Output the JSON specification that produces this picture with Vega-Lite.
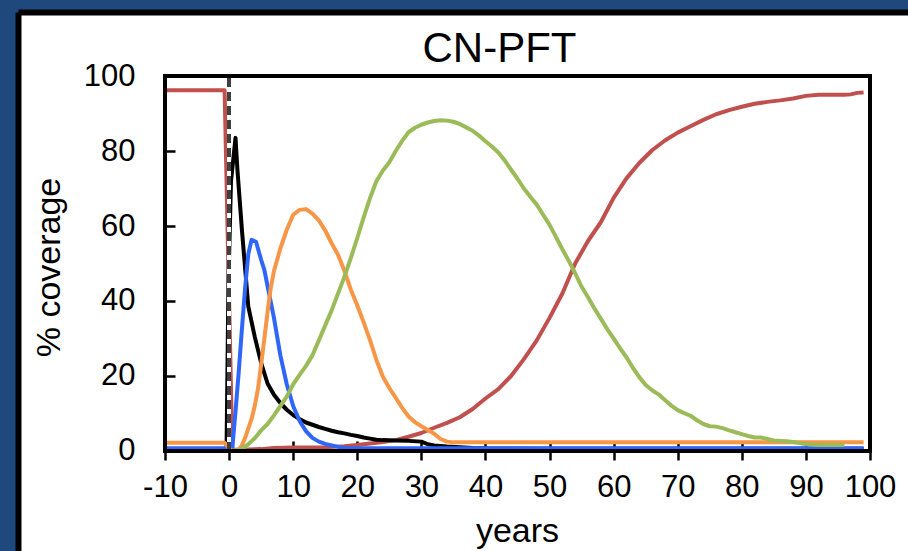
{
  "$schema": "https://vega.github.io/schema/vega-lite/v6.json",
  "width": 887,
  "height": 536,
  "autosize": {"type": "none"},
  "padding": {"left": 21, "top": 15, "right": 0, "bottom": 0},
  "background": "#1F497D",
  "config": {
    "font": "Liberation Sans",
    "view": {"fill": "white", "stroke": null}
  },
  "title": {
    "text": "CN-PFT",
    "font": "Liberation Sans",
    "fontSize": 42,
    "fontWeight": "normal",
    "color": "black",
    "anchor": "middle",
    "frame": "group",
    "baseline": "alphabetic",
    "offset": -92,
    "dx": 35
  },
  "data": {
    "values": [
      {"s": "PFT1", "year": -10, "cover": 96.2}, {"s": "PFT1", "year": -5, "cover": 96.2}, {"s": "PFT1", "year": -0.7, "cover": 96.2},
      {"s": "PFT1", "year": 0.5, "cover": 0.3}, {"s": "PFT1", "year": 3, "cover": 0.4}, {"s": "PFT1", "year": 5, "cover": 0.5},
      {"s": "PFT1", "year": 7, "cover": 0.8}, {"s": "PFT1", "year": 10, "cover": 0.9}, {"s": "PFT1", "year": 15, "cover": 1.0},
      {"s": "PFT1", "year": 18, "cover": 1.3}, {"s": "PFT1", "year": 20, "cover": 1.6}, {"s": "PFT1", "year": 22, "cover": 2.0},
      {"s": "PFT1", "year": 24, "cover": 2.4}, {"s": "PFT1", "year": 26, "cover": 2.9}, {"s": "PFT1", "year": 28, "cover": 3.8},
      {"s": "PFT1", "year": 30, "cover": 4.8}, {"s": "PFT1", "year": 32, "cover": 6.2}, {"s": "PFT1", "year": 34, "cover": 7.5},
      {"s": "PFT1", "year": 36, "cover": 9.0}, {"s": "PFT1", "year": 38, "cover": 11.2}, {"s": "PFT1", "year": 40, "cover": 14.0},
      {"s": "PFT1", "year": 42, "cover": 16.5}, {"s": "PFT1", "year": 44, "cover": 20.0}, {"s": "PFT1", "year": 46, "cover": 24.5},
      {"s": "PFT1", "year": 48, "cover": 29.5}, {"s": "PFT1", "year": 50, "cover": 35.5}, {"s": "PFT1", "year": 52, "cover": 42.0},
      {"s": "PFT1", "year": 54, "cover": 50.0}, {"s": "PFT1", "year": 56, "cover": 56.0}, {"s": "PFT1", "year": 58, "cover": 61.0},
      {"s": "PFT1", "year": 60, "cover": 67.5}, {"s": "PFT1", "year": 62, "cover": 72.7}, {"s": "PFT1", "year": 64, "cover": 76.8},
      {"s": "PFT1", "year": 66, "cover": 80.2}, {"s": "PFT1", "year": 68, "cover": 82.8}, {"s": "PFT1", "year": 70, "cover": 84.9},
      {"s": "PFT1", "year": 72, "cover": 86.6}, {"s": "PFT1", "year": 74, "cover": 88.3}, {"s": "PFT1", "year": 76, "cover": 89.8},
      {"s": "PFT1", "year": 78, "cover": 90.9}, {"s": "PFT1", "year": 80, "cover": 91.8}, {"s": "PFT1", "year": 82, "cover": 92.6},
      {"s": "PFT1", "year": 84, "cover": 93.1}, {"s": "PFT1", "year": 86, "cover": 93.5}, {"s": "PFT1", "year": 88, "cover": 94.0},
      {"s": "PFT1", "year": 90, "cover": 94.7}, {"s": "PFT1", "year": 92, "cover": 95.0}, {"s": "PFT1", "year": 96, "cover": 95.0},
      {"s": "PFT1", "year": 97, "cover": 95.1}, {"s": "PFT1", "year": 98, "cover": 95.5}, {"s": "PFT1", "year": 99, "cover": 95.6},

      {"s": "PFT2", "year": -10, "cover": 0.2}, {"s": "PFT2", "year": -0.4, "cover": 0.2}, {"s": "PFT2", "year": -0.1, "cover": 45},
      {"s": "PFT2", "year": 0.3, "cover": 72}, {"s": "PFT2", "year": 1.0, "cover": 83.5}, {"s": "PFT2", "year": 1.3, "cover": 75},
      {"s": "PFT2", "year": 2, "cover": 59}, {"s": "PFT2", "year": 3, "cover": 38.5}, {"s": "PFT2", "year": 4, "cover": 30.5},
      {"s": "PFT2", "year": 5, "cover": 23.5}, {"s": "PFT2", "year": 6, "cover": 18}, {"s": "PFT2", "year": 7, "cover": 15},
      {"s": "PFT2", "year": 8, "cover": 12.8}, {"s": "PFT2", "year": 9, "cover": 11}, {"s": "PFT2", "year": 10, "cover": 9.6},
      {"s": "PFT2", "year": 11, "cover": 8.5}, {"s": "PFT2", "year": 12, "cover": 7.6}, {"s": "PFT2", "year": 13, "cover": 7.0},
      {"s": "PFT2", "year": 14, "cover": 6.4}, {"s": "PFT2", "year": 15, "cover": 5.9}, {"s": "PFT2", "year": 16, "cover": 5.4},
      {"s": "PFT2", "year": 17, "cover": 5.0}, {"s": "PFT2", "year": 18, "cover": 4.7}, {"s": "PFT2", "year": 19, "cover": 4.3},
      {"s": "PFT2", "year": 20, "cover": 4.0}, {"s": "PFT2", "year": 21, "cover": 3.6}, {"s": "PFT2", "year": 22, "cover": 3.3},
      {"s": "PFT2", "year": 23, "cover": 3.0}, {"s": "PFT2", "year": 24, "cover": 2.9}, {"s": "PFT2", "year": 26, "cover": 2.8},
      {"s": "PFT2", "year": 28, "cover": 2.7}, {"s": "PFT2", "year": 30, "cover": 2.5}, {"s": "PFT2", "year": 31, "cover": 1.8},
      {"s": "PFT2", "year": 32, "cover": 1.5}, {"s": "PFT2", "year": 34, "cover": 1.2}, {"s": "PFT2", "year": 36, "cover": 1.0},
      {"s": "PFT2", "year": 38, "cover": 0.8}, {"s": "PFT2", "year": 40, "cover": 0.7}, {"s": "PFT2", "year": 50, "cover": 0.6},
      {"s": "PFT2", "year": 99, "cover": 0.6},

      {"s": "PFT3", "year": -10, "cover": 0.7}, {"s": "PFT3", "year": 0.5, "cover": 0.7}, {"s": "PFT3", "year": 1, "cover": 10.5},
      {"s": "PFT3", "year": 1.5, "cover": 21}, {"s": "PFT3", "year": 2, "cover": 32.5}, {"s": "PFT3", "year": 2.5, "cover": 43.5},
      {"s": "PFT3", "year": 3, "cover": 52.5}, {"s": "PFT3", "year": 3.5, "cover": 56.3}, {"s": "PFT3", "year": 4.2, "cover": 55.8},
      {"s": "PFT3", "year": 5, "cover": 51}, {"s": "PFT3", "year": 5.5, "cover": 48.3}, {"s": "PFT3", "year": 6, "cover": 44},
      {"s": "PFT3", "year": 7, "cover": 35.5}, {"s": "PFT3", "year": 8, "cover": 25.5}, {"s": "PFT3", "year": 9, "cover": 17.8},
      {"s": "PFT3", "year": 10, "cover": 12}, {"s": "PFT3", "year": 11, "cover": 8}, {"s": "PFT3", "year": 12, "cover": 5.3},
      {"s": "PFT3", "year": 13, "cover": 3.5}, {"s": "PFT3", "year": 14, "cover": 2.5}, {"s": "PFT3", "year": 15, "cover": 1.9},
      {"s": "PFT3", "year": 16, "cover": 1.5}, {"s": "PFT3", "year": 17, "cover": 1.1}, {"s": "PFT3", "year": 18, "cover": 0.8},
      {"s": "PFT3", "year": 20, "cover": 0.7}, {"s": "PFT3", "year": 99, "cover": 0.7},

      {"s": "PFT4", "year": -10, "cover": 2.2}, {"s": "PFT4", "year": -0.7, "cover": 2.2}, {"s": "PFT4", "year": 0.3, "cover": 0.1},
      {"s": "PFT4", "year": 1.5, "cover": 0.3}, {"s": "PFT4", "year": 2, "cover": 1.5}, {"s": "PFT4", "year": 2.5, "cover": 3.5},
      {"s": "PFT4", "year": 3, "cover": 6.0}, {"s": "PFT4", "year": 3.5, "cover": 8.5}, {"s": "PFT4", "year": 4, "cover": 12},
      {"s": "PFT4", "year": 4.5, "cover": 16.5}, {"s": "PFT4", "year": 5, "cover": 23}, {"s": "PFT4", "year": 5.5, "cover": 30},
      {"s": "PFT4", "year": 6, "cover": 37}, {"s": "PFT4", "year": 6.5, "cover": 43.5}, {"s": "PFT4", "year": 7, "cover": 48},
      {"s": "PFT4", "year": 8, "cover": 54}, {"s": "PFT4", "year": 9, "cover": 59}, {"s": "PFT4", "year": 10, "cover": 63},
      {"s": "PFT4", "year": 11, "cover": 64.3}, {"s": "PFT4", "year": 12, "cover": 64.5}, {"s": "PFT4", "year": 13, "cover": 63.3},
      {"s": "PFT4", "year": 14, "cover": 61.5}, {"s": "PFT4", "year": 15, "cover": 58.8}, {"s": "PFT4", "year": 16, "cover": 55.4},
      {"s": "PFT4", "year": 17, "cover": 52.3}, {"s": "PFT4", "year": 18, "cover": 48}, {"s": "PFT4", "year": 19, "cover": 43},
      {"s": "PFT4", "year": 20, "cover": 38.8}, {"s": "PFT4", "year": 21, "cover": 34.3}, {"s": "PFT4", "year": 22, "cover": 29.5},
      {"s": "PFT4", "year": 23, "cover": 24.2}, {"s": "PFT4", "year": 24, "cover": 19.8}, {"s": "PFT4", "year": 25, "cover": 16.8},
      {"s": "PFT4", "year": 26, "cover": 14.2}, {"s": "PFT4", "year": 27, "cover": 11.5}, {"s": "PFT4", "year": 28, "cover": 9.2},
      {"s": "PFT4", "year": 29, "cover": 7.7}, {"s": "PFT4", "year": 30, "cover": 6.6}, {"s": "PFT4", "year": 31, "cover": 5.6},
      {"s": "PFT4", "year": 32, "cover": 4.6}, {"s": "PFT4", "year": 33, "cover": 3.2}, {"s": "PFT4", "year": 34, "cover": 2.5},
      {"s": "PFT4", "year": 35, "cover": 2.3}, {"s": "PFT4", "year": 99, "cover": 2.3},

      {"s": "PFT5", "year": -10, "cover": 0}, {"s": "PFT5", "year": 1, "cover": 0}, {"s": "PFT5", "year": 2, "cover": 0.6},
      {"s": "PFT5", "year": 3, "cover": 1.8}, {"s": "PFT5", "year": 4, "cover": 3.4}, {"s": "PFT5", "year": 5, "cover": 5.5},
      {"s": "PFT5", "year": 6, "cover": 7.2}, {"s": "PFT5", "year": 7, "cover": 9.5}, {"s": "PFT5", "year": 8, "cover": 12},
      {"s": "PFT5", "year": 9, "cover": 14.5}, {"s": "PFT5", "year": 10, "cover": 17.8}, {"s": "PFT5", "year": 11, "cover": 20.3},
      {"s": "PFT5", "year": 12, "cover": 22.7}, {"s": "PFT5", "year": 13, "cover": 25.5}, {"s": "PFT5", "year": 14, "cover": 29.5},
      {"s": "PFT5", "year": 15, "cover": 33.5}, {"s": "PFT5", "year": 16, "cover": 37.5}, {"s": "PFT5", "year": 17, "cover": 42},
      {"s": "PFT5", "year": 18, "cover": 46.5}, {"s": "PFT5", "year": 19, "cover": 51.5}, {"s": "PFT5", "year": 20, "cover": 56.8},
      {"s": "PFT5", "year": 21, "cover": 62.3}, {"s": "PFT5", "year": 22, "cover": 67.5}, {"s": "PFT5", "year": 23, "cover": 72},
      {"s": "PFT5", "year": 24, "cover": 74.8}, {"s": "PFT5", "year": 25, "cover": 77}, {"s": "PFT5", "year": 26, "cover": 80},
      {"s": "PFT5", "year": 27, "cover": 82.7}, {"s": "PFT5", "year": 28, "cover": 85}, {"s": "PFT5", "year": 29, "cover": 86.2},
      {"s": "PFT5", "year": 30, "cover": 87}, {"s": "PFT5", "year": 31, "cover": 87.6}, {"s": "PFT5", "year": 32, "cover": 88},
      {"s": "PFT5", "year": 33, "cover": 88.2}, {"s": "PFT5", "year": 34, "cover": 88.1}, {"s": "PFT5", "year": 35, "cover": 87.8},
      {"s": "PFT5", "year": 36, "cover": 87.2}, {"s": "PFT5", "year": 37, "cover": 86.3}, {"s": "PFT5", "year": 38, "cover": 85.4},
      {"s": "PFT5", "year": 39, "cover": 84.1}, {"s": "PFT5", "year": 40, "cover": 82.6}, {"s": "PFT5", "year": 41, "cover": 81.2},
      {"s": "PFT5", "year": 42, "cover": 79.6}, {"s": "PFT5", "year": 43, "cover": 77.5}, {"s": "PFT5", "year": 44, "cover": 75},
      {"s": "PFT5", "year": 45, "cover": 72.6}, {"s": "PFT5", "year": 46, "cover": 70}, {"s": "PFT5", "year": 47, "cover": 67.8},
      {"s": "PFT5", "year": 48, "cover": 65.7}, {"s": "PFT5", "year": 49, "cover": 63}, {"s": "PFT5", "year": 50, "cover": 60.3},
      {"s": "PFT5", "year": 51, "cover": 57.1}, {"s": "PFT5", "year": 52, "cover": 53.8}, {"s": "PFT5", "year": 53, "cover": 50.7},
      {"s": "PFT5", "year": 54, "cover": 47.4}, {"s": "PFT5", "year": 55, "cover": 43.8}, {"s": "PFT5", "year": 56, "cover": 41},
      {"s": "PFT5", "year": 57, "cover": 38}, {"s": "PFT5", "year": 58, "cover": 35.3}, {"s": "PFT5", "year": 59, "cover": 32.5},
      {"s": "PFT5", "year": 60, "cover": 30}, {"s": "PFT5", "year": 61, "cover": 27.4}, {"s": "PFT5", "year": 62, "cover": 25},
      {"s": "PFT5", "year": 63, "cover": 22.2}, {"s": "PFT5", "year": 64, "cover": 19.7}, {"s": "PFT5", "year": 65, "cover": 17.6},
      {"s": "PFT5", "year": 66, "cover": 16.2}, {"s": "PFT5", "year": 67, "cover": 15.1}, {"s": "PFT5", "year": 68, "cover": 13.6},
      {"s": "PFT5", "year": 69, "cover": 12.1}, {"s": "PFT5", "year": 70, "cover": 10.9}, {"s": "PFT5", "year": 71, "cover": 10.1},
      {"s": "PFT5", "year": 72, "cover": 9.4}, {"s": "PFT5", "year": 73, "cover": 8.2}, {"s": "PFT5", "year": 74, "cover": 7.2},
      {"s": "PFT5", "year": 75, "cover": 6.6}, {"s": "PFT5", "year": 76, "cover": 6.5}, {"s": "PFT5", "year": 77, "cover": 6.1},
      {"s": "PFT5", "year": 78, "cover": 5.5}, {"s": "PFT5", "year": 79, "cover": 5.0}, {"s": "PFT5", "year": 80, "cover": 4.5},
      {"s": "PFT5", "year": 81, "cover": 4.0}, {"s": "PFT5", "year": 82, "cover": 3.6}, {"s": "PFT5", "year": 83, "cover": 3.6},
      {"s": "PFT5", "year": 84, "cover": 3.2}, {"s": "PFT5", "year": 85, "cover": 2.8}, {"s": "PFT5", "year": 86, "cover": 2.7},
      {"s": "PFT5", "year": 87, "cover": 2.6}, {"s": "PFT5", "year": 88, "cover": 2.4}, {"s": "PFT5", "year": 89, "cover": 2.1},
      {"s": "PFT5", "year": 90, "cover": 1.8}, {"s": "PFT5", "year": 92, "cover": 1.6}, {"s": "PFT5", "year": 96, "cover": 1.6}
    ]
  },
  "resolve": {"scale": {"x": "shared", "y": "shared"}, "axis": {"x": "independent", "y": "independent"}},
  "layer": [
    {
      "mark": {"type": "line", "strokeWidth": 4, "strokeJoin": "round"},
      "encoding": {
        "x": {
          "field": "year", "type": "quantitative",
          "scale": {"domain": [-32.468, 105.929], "nice": false, "zero": false},
          "axis": {
            "orient": "bottom", "offset": -110, "values": [-10, 0, 10, 20, 30, 40, 50, 60, 70, 80, 90, 100],
            "labelExpr": "datum.value + ''",
            "domain": false, "grid": false, "tickSize": 19, "tickWidth": 2.5, "tickColor": "black",
            "labelFont": "Liberation Sans", "labelFontSize": 31, "labelColor": "black", "labelPadding": 12,
            "labelFlush": false, "labelOverlap": false, "labelBound": false,
            "title": "years", "titleFont": "Liberation Sans", "titleFontSize": 34, "titleFontWeight": "normal",
            "titleColor": "black", "titleX": 496, "titleY": 100, "titleBaseline": "alphabetic", "titleAlign": "center"
          }
        },
        "y": {
          "field": "cover", "type": "quantitative",
          "scale": {"domain": [-26.667, 116.267], "nice": false, "zero": false},
          "axis": {
            "orient": "left", "offset": -154, "values": [0, 20, 40, 60, 80, 100],
            "domain": false, "grid": false, "tickSize": 10, "tickWidth": 2.5, "tickColor": "black",
            "labelFont": "Liberation Sans", "labelFontSize": 31, "labelColor": "black", "labelPadding": 30,
            "labelOverlap": false, "labelBound": false,
            "title": "% coverage", "titleFont": "Liberation Sans", "titleFontSize": 34, "titleFontWeight": "normal",
            "titleColor": "black", "titleAngle": 270, "titleX": -126, "titleY": 252, "titleBaseline": "middle", "titleAlign": "center"
          }
        },
        "color": {
          "field": "s", "type": "nominal", "legend": null,
          "scale": {"domain": ["PFT1", "PFT2", "PFT3", "PFT4", "PFT5"], "range": ["#C0504D", "#000000", "#2F66FA", "#F79646", "#9BBB59"]}
        }
      }
    },
    {
      "mark": {"type": "rule", "color": "white", "strokeWidth": 3},
      "encoding": {
        "x": {"datum": 0, "axis": null},
        "y": {"datum": 0, "axis": null},
        "y2": {"datum": 100}
      }
    },
    {
      "mark": {"type": "rule", "color": "#404040", "strokeWidth": 3, "strokeDash": [9, 5]},
      "encoding": {
        "x": {"datum": 0, "axis": null},
        "y": {"datum": 0, "axis": null},
        "y2": {"datum": 100}
      }
    },
    {
      "mark": {"type": "rect", "filled": false, "color": "black", "strokeWidth": 2.5},
      "encoding": {
        "x": {"datum": -10, "scale": {"domain": [-32.468, 105.929], "nice": false, "zero": false},
          "axis": {"orient": "top", "offset": 3, "domain": true, "domainColor": "black", "domainWidth": 6, "domainCap": "square", "ticks": false, "labels": false, "grid": false, "title": null}},
        "x2": {"datum": 100},
        "y": {"datum": 0, "scale": {"domain": [-26.667, 116.267], "nice": false, "zero": false},
          "axis": {"orient": "left", "offset": 3, "domain": true, "domainColor": "black", "domainWidth": 6, "domainCap": "square", "ticks": false, "labels": false, "grid": false, "title": null}},
        "y2": {"datum": 100}
      }
    }
  ]
}
